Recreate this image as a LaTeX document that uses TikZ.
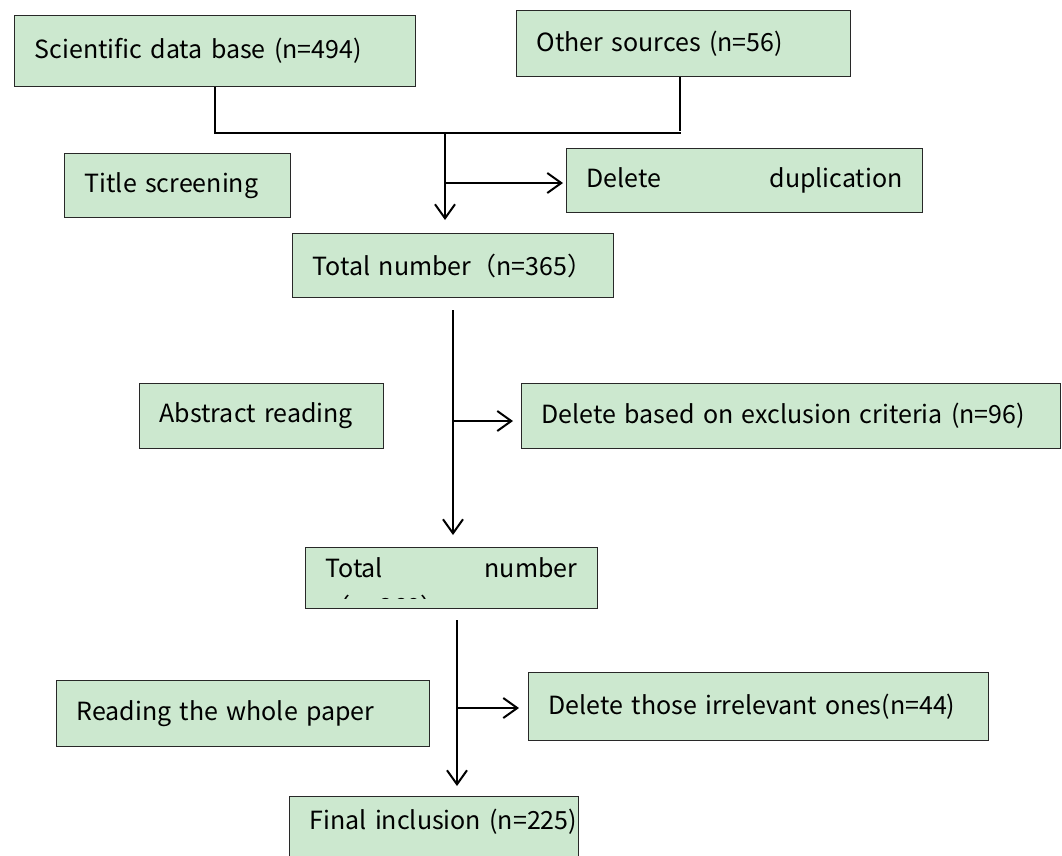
\documentclass[tikz,border=0pt]{standalone}
\usepackage{fontspec}
\setmainfont{Noto Sans CJK SC}
\usetikzlibrary{arrows.meta}
\definecolor{boxgreen}{RGB}{204,232,207}
\definecolor{boxline}{RGB}{40,40,40}
\tikzset{
  box/.style={draw=boxline, line width=1.3pt, fill=boxgreen, anchor=north west,
    inner xsep=20pt, inner ysep=0pt, align=left,
    font=\fontsize{25}{30}\selectfont},
  link/.style={line width=2pt, black},
  arr/.style={link, -{Straight Barb[length=14pt,width=20pt,line width=2pt]}}
}
\begin{document}
\begin{tikzpicture}[x=1pt,y=-1pt]
\useasboundingbox (0,0) rectangle (1062,855);
\clip (0,0) rectangle (1062,855);
\fill[white] (0,0) rectangle (1062,855);

% record sources
\node[box, minimum width=401, minimum height=71, text width=361] (sci) at (14,15)
  {Scientific data base (n=494)};
\node[box, minimum width=334, minimum height=66, text width=294] (oth) at (516,10)
  {Other sources (n=56)};

% title screening stage
\node[box, minimum width=226, minimum height=64, text width=186] (title) at (64,153)
  {Title screening};
\node[box, minimum width=356, minimum height=64, text width=316] (dup) at (566,148)
  {Delete\hfill duplication};
\node[box, minimum width=321, minimum height=64, text width=281] (tot1) at (292,233)
  {\mbox{Total number（n=365）}};

% abstract stage
\node[box, minimum width=244, minimum height=65, text width=204] (abs) at (139,383)
  {Abstract reading};
\node[box, minimum width=539, minimum height=65, text width=499] (exc) at (521,383)
  {\mbox{Delete based on exclusion criteria (n=96)}};

% second total: the box is too small for its text, the overflow is cut off
\node[box, minimum width=292, minimum height=61, text width=252] (tot2) at (305,547) {};
\begin{scope}
  \clip (306,548) rectangle (596,598);
  \node[anchor=north west, inner sep=0pt, text width=252, align=left,
        font=\fontsize{25}{39}\selectfont] (tot2text) at (325,557)
    {Total\hfill number\\（n=269）};
\end{scope}

% full text stage
\node[box, minimum width=373, minimum height=66, text width=333] (read) at (56,680)
  {Reading the whole paper};
\node[box, minimum width=460, minimum height=68, text width=420] (irr) at (528,672)
  {\mbox{Delete those irrelevant ones(n=44)}};
\node[box, minimum width=289, minimum height=70, text width=249,
      text height=18pt, text depth=22pt] (fin) at (289,796)
  {\mbox{Final inclusion (n=225)}};

% merging the two sources
\coordinate (jr) at (680,133);
\coordinate (s1) at (445,133);
\draw[link] (sci.south) |- ([xshift=1pt]jr);
\draw[link] (jr |- oth.south) -- ([yshift=2pt]jr);

% first stem with removal branch
\coordinate (b1) at (445,183);
\draw[arr] (s1) -- (445,220);
\draw[arr] (b1) -- ([xshift=-3pt]dup.west |- b1);

% second stem
\coordinate (s2) at (453,310);
\coordinate (b2) at (453,421);
\draw[arr] (s2) -- (453,535);
\draw[arr] (b2) -- ([xshift=-8pt]exc.west |- b2);

% third stem
\coordinate (s3) at (457,620);
\coordinate (b3) at (457,708);
\draw[arr] (s3) -- (457,786);
\draw[arr] (b3) -- ([xshift=-9pt]irr.west |- b3);
\end{tikzpicture}
\end{document}
